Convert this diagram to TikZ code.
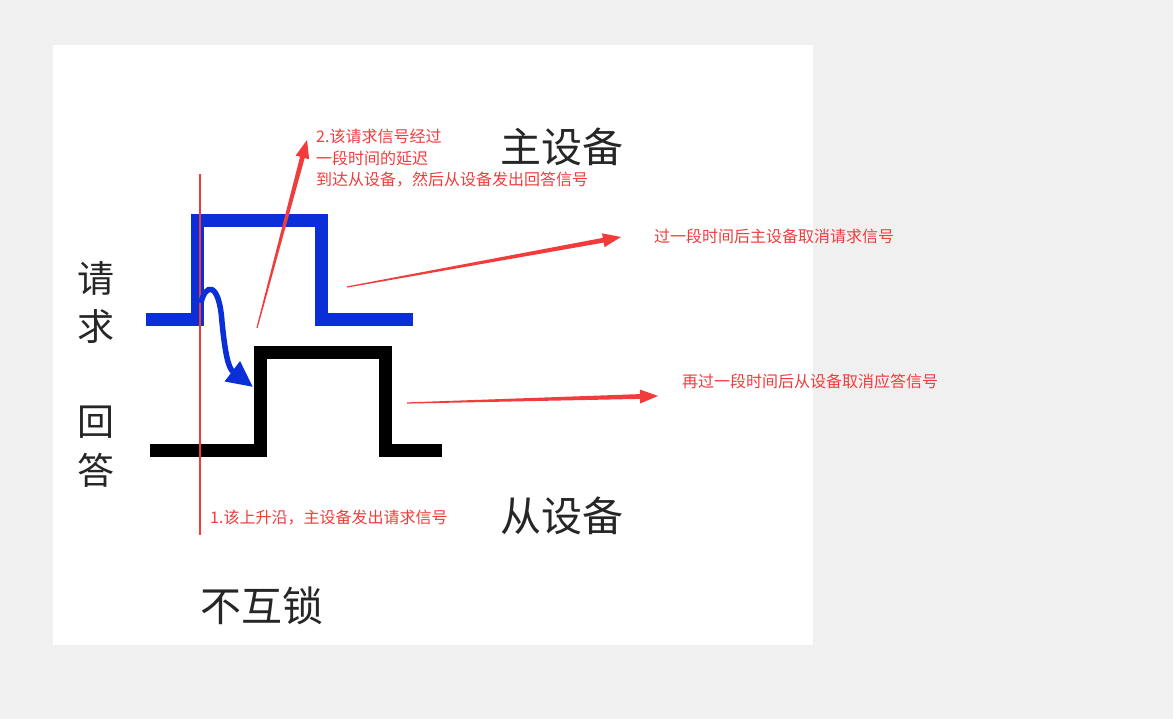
\documentclass[tikz,border=0pt]{standalone}
\usepackage{fontspec}
\newfontfamily\cjk{Noto Sans CJK SC}
\usetikzlibrary{calc,arrows.meta}
\definecolor{bgray}{HTML}{F0F0F0}
\definecolor{sigblue}{HTML}{0A2FD8}
\definecolor{annred}{HTML}{F23C3C}
\tikzset{
  redtxt/.style={inner sep=0pt, text=annred, font=\cjk\fontsize{16}{21.5}\selectfont, align=left},
  bigtxt/.style={inner sep=0pt, text=black!85, font=\cjk\fontsize{41}{41}\selectfont},
  sideTxt/.style={inner sep=0pt, text=black!85, font=\cjk\fontsize{37}{38}\selectfont},
}
\newcommand{\taparrow}[2]{%
  \fill[annred] ($(#1)!0.6pt!90:(#2)$) --
    ($(#2)!18pt!(#1)!2.4pt!-90:(#1)$) --
    ($(#2)!18pt!(#1)!7pt!-90:(#1)$) -- (#2) --
    ($(#2)!18pt!(#1)!7pt!90:(#1)$) --
    ($(#2)!18pt!(#1)!2.4pt!90:(#1)$) --
    ($(#1)!0.6pt!-90:(#2)$) -- cycle;}
\begin{document}
\begin{tikzpicture}[x=1pt,y=-1pt]
\useasboundingbox (0,0) rectangle (1173,719);
\fill[bgray] (0,0) rectangle (1173,719);
\fill[white] (53,45) rectangle (813,645);
% signals
\draw[sigblue, line width=13pt] (146,320) -- (197,320) -- (197,221) -- (321,221) -- (321,320) -- (413,320);
\draw[black, line width=13pt] (150,450) -- (260,450) -- (260,353) -- (385,353) -- (385,450) -- (442,450);
% red vertical line
\coordinate (vt) at (200,174);
\coordinate (vb) at (200,535);
\draw[annred, line width=2.6pt] (vt) -- (vb);
% blue delay arrow
\coordinate (bs) at (201,303);
\coordinate (be) at (253,387);
\draw[sigblue, line width=5.5pt, -{Triangle[length=26pt,width=24pt]}] (bs) .. controls (205,284) and (219,280) .. (222,322) .. controls (225,352) and (228,368) .. (be);
% red annotation arrows
\coordinate (a1s) at (257,328); \coordinate (a1e) at (307,140);
\coordinate (a2s) at (347,287); \coordinate (a2e) at (621,237);
\coordinate (a3s) at (407,403); \coordinate (a3e) at (658,396);
\taparrow{a1s}{a1e}
\taparrow{a2s}{a2e}
\taparrow{a3s}{a3e}
% texts
\node[redtxt, anchor=north west] (t2) at (316,129) {2.该请求信号经过\\一段时间的延迟\\到达从设备，然后从设备发出回答信号};
\node[redtxt, anchor=west] (t3) at (654,236) {过一段时间后主设备取消请求信号};
\node[redtxt, anchor=west] (t4) at (682,381) {再过一段时间后从设备取消应答信号};
\node[redtxt, anchor=west] (t1) at (210,518) {1.该上升沿，主设备发出请求信号};
\node[bigtxt, anchor=west] (zsb) at (500,147) {主设备};
\node[bigtxt, anchor=west] (csb) at (500,516) {从设备};
\node[bigtxt, anchor=west] (bhs) at (200,606) {不互锁};
\node[sideTxt] (q1) at (96,278) {请};
\node[sideTxt] (q2) at (96,327) {求};
\node[sideTxt] (h1) at (96,422) {回};
\node[sideTxt] (h2) at (96,470) {答};
\end{tikzpicture}
\end{document}
